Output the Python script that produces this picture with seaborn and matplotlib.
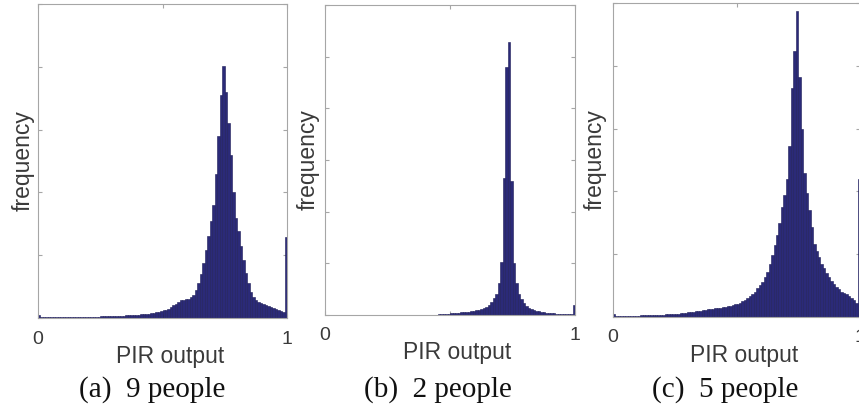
import numpy as np
import pandas as pd
import seaborn as sns
import matplotlib.pyplot as plt

# ------------------------------
# DATA (bar heights in y-tick units, 100 bins on [0, 1])
# ------------------------------

bin_edges = np.linspace(0, 1, 101)

freq_9_people = [
    0.040, 0.008, 0.008, 0.008, 0.009, 0.009, 0.010, 0.010, 0.010, 0.011,
    0.012, 0.012, 0.013, 0.013, 0.014, 0.015, 0.015, 0.016, 0.017, 0.018,
    0.019, 0.020, 0.021, 0.022, 0.023, 0.024, 0.025, 0.027, 0.028, 0.030,
    0.031, 0.033, 0.035, 0.036, 0.038, 0.040, 0.042, 0.045, 0.048, 0.050,
    0.055, 0.058, 0.062, 0.066, 0.070, 0.075, 0.080, 0.090, 0.100, 0.110,
    0.120, 0.130, 0.150, 0.170, 0.200, 0.230, 0.260, 0.280, 0.290, 0.300,
    0.310, 0.330, 0.360, 0.440, 0.560, 0.700, 0.880, 1.080, 1.300, 1.550,
    1.800, 2.300, 2.900, 3.550, 4.020, 3.600, 3.100, 2.600, 2.000, 1.600,
    1.380, 1.140, 0.920, 0.720, 0.550, 0.420, 0.330, 0.280, 0.260, 0.240,
    0.220, 0.200, 0.190, 0.170, 0.160, 0.150, 0.130, 0.110, 0.090, 1.290,
]

freq_2_people = [
    0.000, 0.000, 0.000, 0.000, 0.000, 0.000, 0.000, 0.000, 0.000, 0.000,
    0.000, 0.000, 0.000, 0.000, 0.000, 0.000, 0.000, 0.000, 0.000, 0.000,
    0.000, 0.000, 0.000, 0.000, 0.000, 0.000, 0.000, 0.000, 0.000, 0.000,
    0.003, 0.003, 0.003, 0.003, 0.003, 0.003, 0.003, 0.003, 0.003, 0.003,
    0.004, 0.005, 0.006, 0.007, 0.008, 0.010, 0.012, 0.015, 0.020, 0.025,
    0.030, 0.035, 0.040, 0.045, 0.050, 0.055, 0.060, 0.065, 0.070, 0.080,
    0.090, 0.100, 0.110, 0.130, 0.160, 0.200, 0.260, 0.330, 0.400, 0.620,
    1.020, 2.650, 4.800, 5.280, 2.600, 1.000, 0.620, 0.400, 0.300, 0.230,
    0.180, 0.140, 0.110, 0.090, 0.080, 0.070, 0.060, 0.050, 0.045, 0.040,
    0.035, 0.030, 0.028, 0.025, 0.022, 0.020, 0.018, 0.015, 0.012, 0.190,
]

freq_5_people = [
    0.050, 0.015, 0.015, 0.016, 0.017, 0.018, 0.019, 0.020, 0.021, 0.022,
    0.023, 0.024, 0.025, 0.026, 0.027, 0.028, 0.029, 0.030, 0.032, 0.034,
    0.037, 0.040, 0.042, 0.045, 0.048, 0.050, 0.055, 0.060, 0.065, 0.070,
    0.075, 0.080, 0.085, 0.090, 0.095, 0.100, 0.110, 0.115, 0.120, 0.130,
    0.135, 0.140, 0.145, 0.150, 0.155, 0.160, 0.170, 0.180, 0.190, 0.200,
    0.210, 0.230, 0.250, 0.270, 0.300, 0.340, 0.370, 0.400, 0.460, 0.510,
    0.550, 0.640, 0.720, 0.850, 0.980, 1.150, 1.300, 1.500, 1.750, 1.950,
    2.200, 2.730, 3.650, 4.240, 4.870, 3.820, 3.000, 2.300, 1.970, 1.700,
    1.440, 1.170, 1.050, 0.960, 0.850, 0.780, 0.700, 0.640, 0.580, 0.520,
    0.480, 0.440, 0.400, 0.380, 0.360, 0.330, 0.300, 0.270, 0.220, 2.200,
]

panels = [freq_9_people, freq_2_people, freq_5_people]
captions = ["(a)  9 people", "(b)  2 people", "(c)  5 people"]
y_tops = [5, 6, 5]

# ------------------------------
# STYLE
# ------------------------------

sns.set_style("ticks")
plt.rcParams["font.family"] = ["Liberation Sans", "DejaVu Sans"]

W, H = 859, 417
fig = plt.figure(figsize=(W / 100, H / 100), dpi=100)

# axes boxes in pixels: left, top, right, bottom
boxes_px = [(38, 4, 287, 318), (325, 5, 575, 315), (613, 3, 860, 317)]
caption_x_px = [152, 438, 725]
ylabel_x = [-0.012, -0.02, -0.025]

bar_color = "#2b2a78"
edge_color = "#1c1b58"
frame_gray = "#a6a6a6"
text_color = "#3a3a3a"

bin_centers = (bin_edges[:-1] + bin_edges[1:]) / 2

for i, heights in enumerate(panels):
    l, t, r, b = boxes_px[i]
    top = y_tops[i]
    ax = fig.add_axes([l / W, 1 - b / H, (r - l) / W, (b - t) / H])

    df = pd.DataFrame({"PIR output": bin_centers, "count": heights})
    sns.histplot(data=df, x="PIR output", weights="count",
                 bins=bin_edges.tolist(), color=bar_color, alpha=1,
                 edgecolor=edge_color, linewidth=0.4, ax=ax)

    ax.set_xlim(0, 1)
    ax.set_ylim(0, top)
    ax.set_xticks([0, 0.5, 1])
    ax.set_xticklabels(["0", "", "1"])
    ax.set_yticks(range(top + 1))
    ax.set_yticklabels([])
    ax.tick_params(direction="in", top=True, right=True, length=3,
                   width=0.8, color=frame_gray, labelsize=14,
                   labelcolor=text_color, pad=9)
    for s in ax.spines.values():
        s.set_color(frame_gray)
        s.set_linewidth(0.8)

    ax.set_xlabel("PIR output", fontsize=16.5, color=text_color)
    ax.xaxis.set_label_coords(0.53, -0.085)
    ax.set_ylabel("frequency", fontsize=16.5, color=text_color)
    ax.yaxis.set_label_coords(ylabel_x[i], 0.5)

    fig.text(caption_x_px[i] / W, 1 - 390 / H, captions[i],
             family="Liberation Serif", fontsize=21, ha="center",
             va="center", color="#111111")

fig.savefig("out.png", dpi=100)
